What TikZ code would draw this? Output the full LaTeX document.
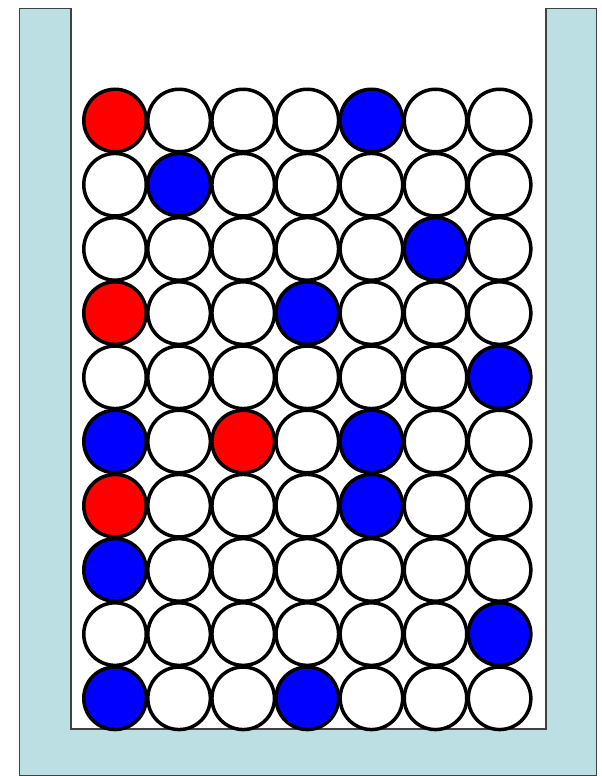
\documentclass[tikz,border=0pt]{standalone}
\definecolor{wallblue}{HTML}{BBDFE2}
\definecolor{walledge}{HTML}{404040}
\definecolor{discred}{HTML}{FF0000}
\definecolor{discblue}{HTML}{0000FF}
\tikzset{
  disc/.style={circle, draw=black, line width=3.5pt, minimum size=62.5pt, inner sep=0pt, fill=white},
  wall/.style={fill=wallblue, draw=walledge, line width=1.3pt}
}
\begin{document}
\begin{tikzpicture}[x=1pt,y=-1pt]
\useasboundingbox (0,0) rectangle (602,776);
\fill[white] (0,0) rectangle (602,776);
\draw[wall] (19.5,8.5) -- (71,8.5) -- (71,729) -- (546,729) -- (546,8.5) -- (596.5,8.5) -- (596.5,775.5) -- (19.5,775.5) -- cycle;
\fill[white] (71.7,9.5) rectangle (545.3,728.3);
% grid: rows top to bottom, W=white, R=red, B=blue
\foreach \row [count=\r] in {
  {R,W,W,W,B,W,W},
  {W,B,W,W,W,W,W},
  {W,W,W,W,W,B,W},
  {R,W,W,B,W,W,W},
  {W,W,W,W,W,W,B},
  {B,W,R,W,B,W,W},
  {R,W,W,W,B,W,W},
  {B,W,W,W,W,W,W},
  {W,W,W,W,W,W,B},
  {B,W,W,B,W,W,W}}{
  \foreach \c [count=\k] in \row {
    \if\c R\def\fc{discred}\else\if\c B\def\fc{discblue}\else\def\fc{white}\fi\fi
    \node[disc, fill=\fc] (d-\r-\k) at ({115+64.1*(\k-1)},{120.5+64.2*(\r-1)}) {};
  }
}
\end{tikzpicture}
\end{document}
